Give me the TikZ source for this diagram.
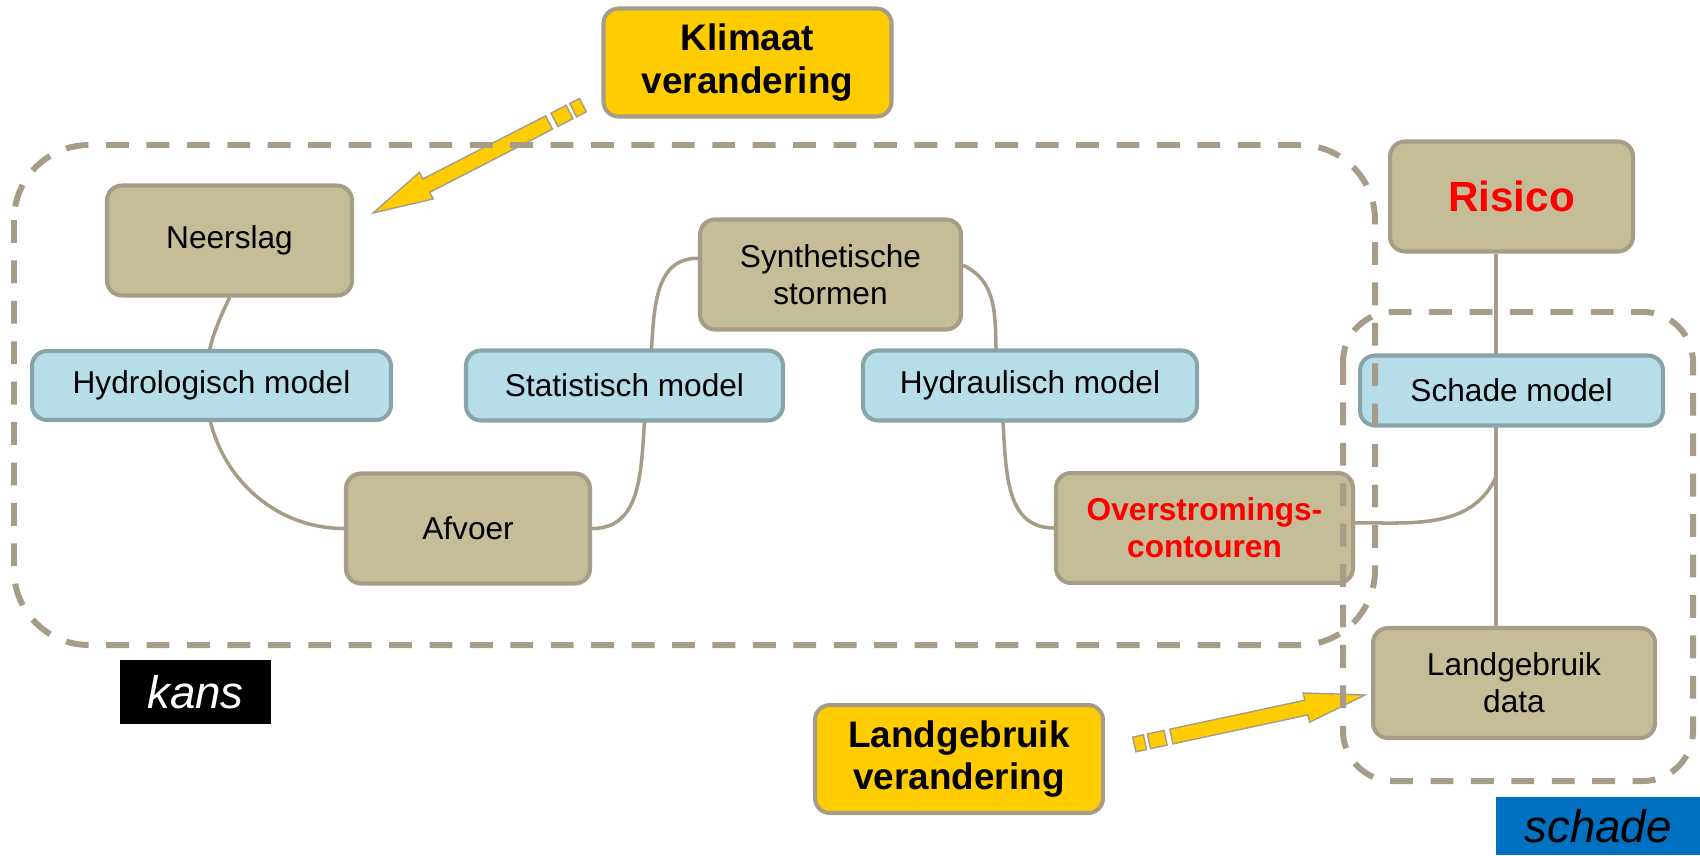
\documentclass[tikz,border=0pt]{standalone}
\usepackage{fontspec}
\setmainfont{Liberation Sans}
\usepackage{tikz}
\usetikzlibrary{backgrounds}

\definecolor{tan}{HTML}{C4BD97}
\definecolor{tanline}{HTML}{A69C88}
\definecolor{aqua}{HTML}{B7DEE8}
\definecolor{aqualine}{HTML}{88A4A8}
\definecolor{gold}{HTML}{FFCC00}
\definecolor{tagblue}{HTML}{0070C0}

\begin{document}
\begin{tikzpicture}[x=0.2mm, y=0.2mm,
        box/.style={shape=rectangle, rounded corners=3mm, draw=tanline, line width=2.3pt, fill=tan,
            align=center, inner sep=0pt, minimum width=4.9cm, minimum height=2.2cm,
            font=\fontsize{18}{21}\selectfont},
        model/.style={box, draw=aqualine, fill=aqua, minimum height=1.4cm},
        change/.style={box, fill=gold, minimum width=5.76cm, minimum height=2.16cm,
            font=\bfseries\fontsize{21}{24}\selectfont},
        tag/.style={shape=rectangle, inner sep=0pt, font=\itshape\fontsize{26}{30}\selectfont},
        link/.style={draw=tanline, line width=2pt},
        zone/.style={draw=tanline, line width=3.4pt, dash pattern=on 13pt off 10pt},
        blockarrow/.style={fill=gold, draw=tanline, line width=0.8pt, line join=miter}]

    \useasboundingbox (0,0) rectangle (1700,-855);

    % oorzaken
    \node[change] (klimaat) at (747.5,-62.5) {Klimaat\\verandering};
    \node[change] (landchange) at (959,-759) {Landgebruik\\verandering};

    % kans
    \node[box] (neerslag) at (229.5,-240.5) {Neerslag};
    \node[model, minimum width=7.18cm, minimum height=1.38cm] (hydro) at (211.5,-385.5) {Hydrologisch model};
    \node[box, minimum width=4.88cm] (afvoer) at (468,-528.5) {Afvoer};
    \node[box, minimum width=5.22cm] (synth) at (830.5,-274.5) {Synthetische\\stormen};
    \node[model, minimum width=6.34cm] (stat) at (624.5,-385.5) {Statistisch model};
    \node[model, minimum width=6.68cm] (hydraul) at (1030,-385.5) {Hydraulisch model};
    \node[box, minimum width=5.94cm, text=red, font=\bfseries\fontsize{18}{21}\selectfont] (overstr) at (1204.5,-528) {Overstromings-\\contouren};

    % schade
    \node[box, minimum width=4.86cm, text=red, font=\bfseries\fontsize{24}{28}\selectfont] (risico) at (1511.5,-196.5) {Risico};
    \node[model, minimum width=6.06cm] (schademodel) at (1511.5,-390.5) {Schade model};
    \node[box, minimum width=5.64cm] (landdata) at (1514,-683) {Landgebruik\\data};

    \node[tag, fill=black, text=white, minimum width=3.02cm, minimum height=1.28cm] (kans) at (195.5,-692) {kans};
    \node[tag, fill=tagblue, text=black, minimum width=4.08cm, minimum height=1.16cm] (schade) at (1598,-826) {schade};

    \coordinate (hydrovia) at (206,-385.5);
    \coordinate (statvia) at (648,-385.5);
    \coordinate (hydraulvia) at (999,-385.5);
    \coordinate (join) at (1496,-477);

    \begin{scope}[on background layer]
        \draw[link] (neerslag.south) to[out=-115,in=90] (hydrovia) to[out=-90,in=180] (afvoer.west);
        \draw[link] (afvoer.east) to[out=0,in=-99] (statvia) to[out=81,in=180] (synth.173);
        \draw[link] (synth.4) to[out=-25,in=100] (hydraulvia) to[out=-80,in=180] (overstr.west);
        \draw[link] (overstr.2) to[out=0,in=-115] (join);
        \draw[link] (risico.south -| join) -- (landdata.north -| join);
    \end{scope}

    % pijlen
    \begin{scope}[shift={(373,-213)}, rotate=27.2]
        \draw[blockarrow] (0,0) -- (60,15) -- (60,7.5) -- (198,7.5) -- (198,-7.5) -- (60,-7.5) -- (60,-15) -- cycle;
        \draw[blockarrow] (204,7.5) -- (221,7.5) -- (221,-7.5) -- (204,-7.5) -- cycle;
        \draw[blockarrow] (225,7.5) -- (236,7.5) -- (236,-7.5) -- (225,-7.5) -- cycle;
    \end{scope}
    \begin{scope}[shift={(1365,-695)}, rotate=192.1]
        \draw[blockarrow] (0,0) -- (60,15) -- (60,7.5) -- (198,7.5) -- (198,-7.5) -- (60,-7.5) -- (60,-15) -- cycle;
        \draw[blockarrow] (204,7.5) -- (221,7.5) -- (221,-7.5) -- (204,-7.5) -- cycle;
        \draw[blockarrow] (225,7.5) -- (236,7.5) -- (236,-7.5) -- (225,-7.5) -- cycle;
    \end{scope}

    % kaders
    \draw[zone, rounded corners=1.5cm] (14,-145) rectangle (1375,-645);
    \draw[zone, rounded corners=1cm] (1343,-312) rectangle (1693,-781);
\end{tikzpicture}
\end{document}
